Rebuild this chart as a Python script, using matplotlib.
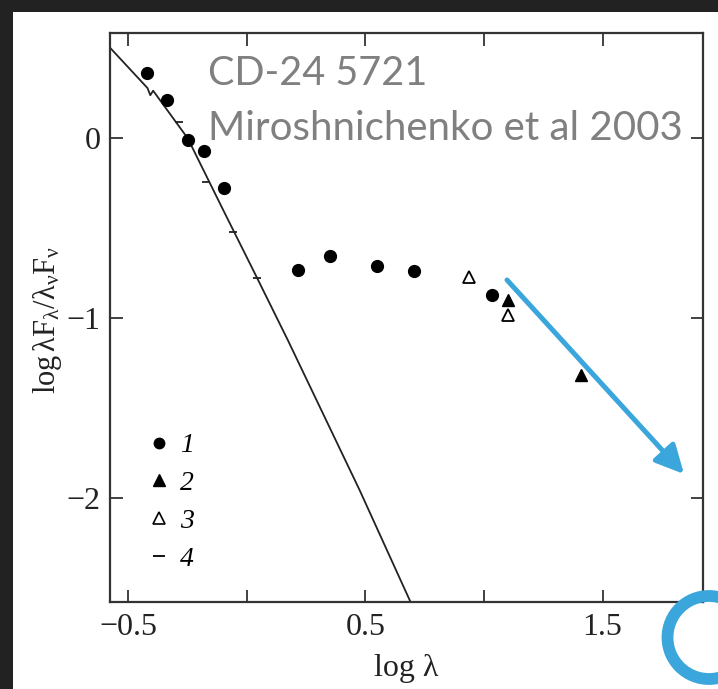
import matplotlib
matplotlib.use("Agg")
import matplotlib.pyplot as plt
from matplotlib.lines import Line2D
from matplotlib.patches import Rectangle, Ellipse, FancyArrowPatch

plt.rcParams["font.family"] = ["Liberation Serif", "DejaVu Serif"]
plt.rcParams["mathtext.fontset"] = "custom"
plt.rcParams["mathtext.rm"] = "Liberation Serif"
plt.rcParams["mathtext.it"] = "Liberation Serif:italic"

# Data (log lambda, log lambda F_lambda / lambda_nu F_nu)
circ_x = [-0.421, -0.339, -0.251, -0.181, -0.097, 0.214, 0.349, 0.55, 0.706, 1.034]
circ_y = [0.363, 0.211, -0.011, -0.071, -0.279, -0.733, -0.656, -0.711, -0.739, -0.872]

tri_x = [1.10, 1.408]
tri_y = [-0.90, -1.317]

otri_x = [0.937, 1.10]
otri_y = [-0.773, -0.983]

dash_x = [-0.286, -0.172, -0.06, 0.042]
dash_y = [0.089, -0.244, -0.52, -0.778]

model_x = [-0.575, -0.42, -0.408, -0.396, -0.25, -0.10, 0.04, 0.173, 0.475, 0.69]
model_y = [0.50, 0.28, 0.24, 0.265, 0.0, -0.40, -0.77, -1.125, -1.957, -2.58]

xticks = [-0.5, 0.0, 0.5, 1.0, 1.5]
xticklabels = ["\u22120.5", "", "0.5", "", "1.5"]
yticks = [0, -1, -2]
yticklabels = ["0", "\u22121", "\u22122"]

blue = "#3aa6dc"

fig = plt.figure(figsize=(7.18, 6.89), dpi=100, facecolor="#222222")
fig.patches.append(Rectangle((13 / 718, 0), 1, 1 - 12 / 689, transform=fig.transFigure,
                             facecolor="white", edgecolor="none", zorder=-10))

ax = fig.add_axes([110 / 718, 1 - 602 / 689, 593 / 718, 569 / 689])
ax.set_facecolor("white")

ax.plot(model_x, model_y, color="#222222", lw=1.3)
ax.plot(dash_x, dash_y, "_", color="#222222", ms=6, mew=1.3)
ax.plot(circ_x, circ_y, "o", color="black", ms=8.5)
ax.plot(tri_x, tri_y, "^", color="black", ms=9)
ax.plot(otri_x, otri_y, "^", mfc="white", mec="black", mew=1.3, ms=9)

ax.set_xlim(-0.578, 1.924)
ax.set_ylim(-2.58, 0.586)
ax.set_xticks(xticks)
ax.set_xticklabels(xticklabels)
ax.set_yticks(yticks)
ax.set_yticklabels(yticklabels)
ax.tick_params(direction="in", length=9, width=1.3, top=True, right=True,
               labelsize=23, color="#333333", labelcolor="#222222")
ax.tick_params(axis="x", pad=8)
ax.tick_params(axis="y", pad=7)
for s in ax.spines.values():
    s.set_linewidth(1.6)
    s.set_color("#333333")

handles = [
    Line2D([], [], ls="none", marker="o", color="black", ms=7.5),
    Line2D([], [], ls="none", marker="^", color="black", ms=8),
    Line2D([], [], ls="none", marker="^", mfc="white", mec="black", mew=1.2, ms=8),
    Line2D([], [], ls="none", marker="_", color="black", ms=8, mew=1.3),
]
ax.legend(handles, ["1", "2", "3", "4"], loc="center left",
          bbox_to_anchor=(0.06, 0.175), frameon=False, borderpad=0,
          borderaxespad=0, handlelength=1.0, handletextpad=0.25,
          labelspacing=0.45, prop={"style": "italic", "size": 20})

fig.text(406 / 718, 1 - 676 / 689, "log \u03bb", ha="center", va="baseline",
         fontsize=23, color="#222222")
fig.text(47 / 718, 1 - 320 / 689,
         r"$\mathrm{log\,\lambda F_{\lambda}/\lambda_{\nu}F_{\nu}}$",
         rotation=90, ha="center", va="center", fontsize=22, color="#222222")

# grey annotation text
fig.text(208 / 718, 1 - 85 / 689, "CD-24 5721", family="Lato", fontsize=28.5,
         color="#808080", va="baseline")
fig.text(208 / 718, 1 - 140 / 689, "Miroshnichenko et al 2003", family="Lato",
         fontsize=29, color="#808080", va="baseline")

# blue arrow and circle
arr = FancyArrowPatch((507 / 718, 1 - 280 / 689), (684 / 718, 1 - 474 / 689),
                      transform=fig.transFigure,
                      arrowstyle="-|>,head_length=0.86,head_width=0.43",
                      mutation_scale=20, color=blue, lw=3.6, shrinkA=0, shrinkB=0)
fig.patches.append(arr)
fig.patches.append(Ellipse((709 / 718, 1 - 637.5 / 689), 83 / 718, 83 / 689,
                           transform=fig.transFigure, fill=False, lw=8.5, edgecolor=blue))

fig.savefig("out.png", dpi=100, facecolor=fig.get_facecolor())
